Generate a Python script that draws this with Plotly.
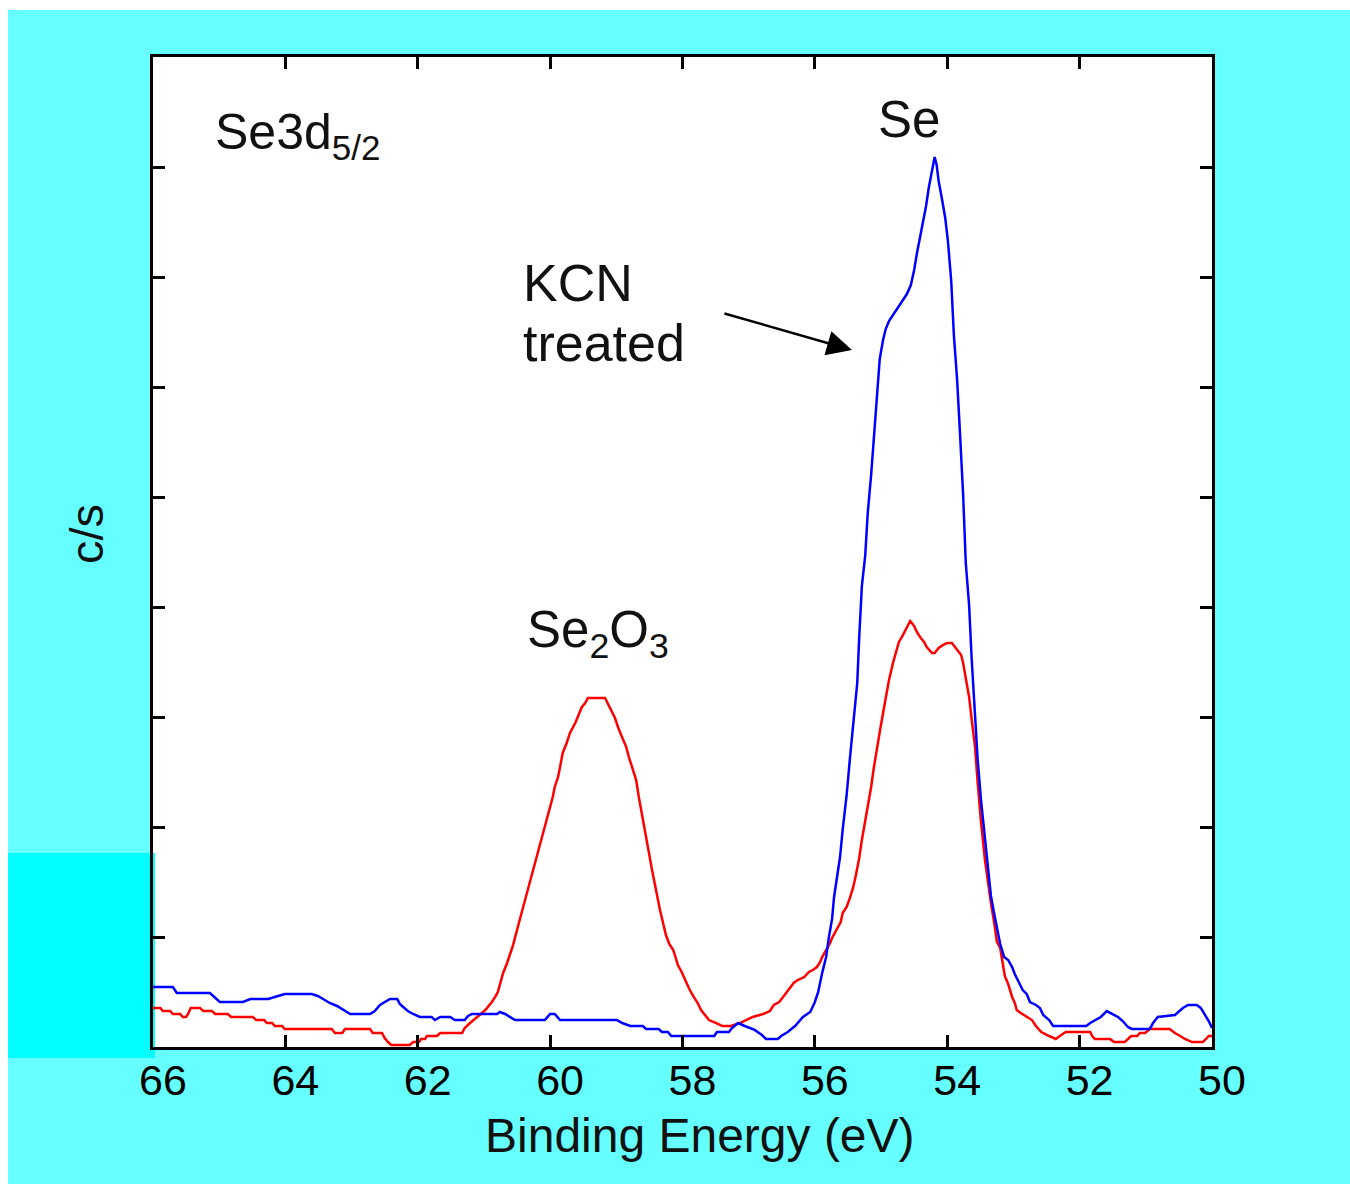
import plotly.graph_objects as go

# ---------------- data ----------------
blue_energy = [66.00, 65.70, 65.64, 65.14, 64.99, 64.64, 64.53, 64.26, 64.16, 64.01, 63.60, 63.51, 63.43, 63.33,
               63.22, 63.10, 63.02, 62.72, 62.65, 62.57, 62.50, 62.42, 62.31, 62.27, 62.22, 62.15, 62.07, 61.97,
               61.79, 61.74, 61.66, 61.51, 61.44, 61.29, 61.24, 61.18, 60.80, 60.76, 60.68, 60.61, 60.53, 60.08,
               60.00, 59.93, 59.85, 58.99, 58.91, 58.79, 58.60, 58.55, 58.36, 58.31, 58.22, 58.17, 57.52, 57.48,
               57.30, 57.25, 57.16, 57.06, 56.91, 56.80, 56.74, 56.56, 56.51, 56.41, 56.30, 56.18, 56.07, 56.00,
               55.95, 55.89, 55.83, 55.79, 55.74, 55.71, 55.67, 55.62, 55.58, 55.52, 55.47, 55.42, 55.36, 55.33,
               55.29, 55.24, 55.20, 55.15, 55.11, 55.06, 55.02, 54.97, 54.93, 54.88, 54.82, 54.77, 54.73, 54.68,
               54.64, 54.61, 54.55, 54.50, 54.46, 54.41, 54.37, 54.32, 54.28, 54.23, 54.19, 54.16, 54.13, 54.08,
               54.03, 53.99, 53.94, 53.90, 53.85, 53.81, 53.76, 53.72, 53.67, 53.63, 53.58, 53.54, 53.49, 53.43,
               53.38, 53.34, 53.29, 53.25, 53.20, 53.14, 53.08, 53.02, 52.98, 52.92, 52.86, 52.80, 52.75, 52.66,
               52.60, 52.55, 52.46, 52.40, 51.90, 51.84, 51.77, 51.68, 51.59, 51.51, 51.42, 51.35, 51.27, 51.21,
               50.94, 50.89, 50.82, 50.56, 50.50, 50.44, 50.36, 50.23, 50.17, 50.11, 50.05, 50.00]
blue_counts = [0.545, 0.545, 0.491, 0.491, 0.409, 0.409, 0.436, 0.436, 0.455, 0.482, 0.482, 0.464, 0.436, 0.400,
               0.373, 0.327, 0.300, 0.300, 0.327, 0.382, 0.409, 0.436, 0.436, 0.391, 0.364, 0.327, 0.300, 0.273,
               0.273, 0.245, 0.273, 0.273, 0.245, 0.245, 0.282, 0.300, 0.300, 0.318, 0.300, 0.273, 0.245, 0.245,
               0.300, 0.300, 0.245, 0.245, 0.218, 0.191, 0.191, 0.164, 0.164, 0.136, 0.136, 0.100, 0.100, 0.136,
               0.136, 0.173, 0.218, 0.191, 0.155, 0.109, 0.073, 0.073, 0.100, 0.136, 0.191, 0.273, 0.318, 0.409,
               0.500, 0.673, 0.818, 0.991, 1.164, 1.364, 1.536, 1.727, 1.973, 2.291, 2.627, 2.964, 3.309, 3.727,
               4.191, 4.464, 4.864, 5.200, 5.545, 6.000, 6.255, 6.427, 6.527, 6.600, 6.655, 6.709, 6.745, 6.782,
               6.818, 6.845, 6.927, 7.064, 7.209, 7.355, 7.491, 7.645, 7.809, 7.973, 8.091, 8.018, 7.873, 7.709,
               7.536, 7.327, 6.964, 6.473, 6.055, 5.609, 5.018, 4.400, 4.018, 3.518, 3.027, 2.609, 2.245, 1.882,
               1.582, 1.373, 1.209, 1.073, 0.936, 0.818, 0.791, 0.727, 0.664, 0.591, 0.518, 0.482, 0.409, 0.382,
               0.355, 0.291, 0.245, 0.191, 0.191, 0.218, 0.245, 0.273, 0.327, 0.300, 0.273, 0.236, 0.182, 0.164,
               0.164, 0.218, 0.273, 0.291, 0.327, 0.355, 0.382, 0.382, 0.355, 0.300, 0.236, 0.173]

red_energy = [66.00, 65.89, 65.85, 65.74, 65.70, 65.59, 65.55, 65.50, 65.47, 65.43, 65.29, 65.24, 65.11, 65.06,
              64.87, 64.82, 64.49, 64.44, 64.32, 64.28, 64.20, 64.16, 64.05, 64.01, 63.30, 63.25, 63.14, 63.10,
              62.72, 62.68, 62.54, 62.50, 62.45, 62.40, 62.12, 62.07, 61.98, 61.95, 61.89, 61.86, 61.71, 61.66,
              61.33, 61.29, 61.21, 61.11, 61.03, 60.98, 60.94, 60.88, 60.83, 60.79, 60.76, 60.71, 60.65, 60.61,
              60.56, 60.46, 60.35, 60.24, 60.14, 60.05, 59.96, 59.93, 59.88, 59.85, 59.81, 59.75, 59.70, 59.62,
              59.58, 59.52, 59.47, 59.43, 59.17, 59.13, 59.07, 59.02, 58.97, 58.91, 58.85, 58.81, 58.76, 58.70,
              58.66, 58.57, 58.46, 58.34, 58.25, 58.20, 58.14, 58.11, 58.07, 58.02, 57.96, 57.92, 57.89, 57.83,
              57.77, 57.72, 57.66, 57.60, 57.49, 57.40, 57.27, 57.13, 57.04, 56.94, 56.78, 56.68, 56.62, 56.54,
              56.48, 56.42, 56.36, 56.32, 56.26, 56.16, 56.09, 56.03, 55.97, 55.92, 55.89, 55.83, 55.77, 55.74,
              55.70, 55.65, 55.61, 55.58, 55.52, 55.47, 55.42, 55.38, 55.33, 55.29, 55.24, 55.20, 55.15, 55.11,
              55.06, 55.02, 54.97, 54.93, 54.88, 54.82, 54.77, 54.73, 54.67, 54.62, 54.56, 54.50, 54.46, 54.40,
              54.35, 54.31, 54.23, 54.19, 54.13, 54.06, 54.00, 53.93, 53.88, 53.84, 53.79, 53.76, 53.72, 53.67,
              53.63, 53.58, 53.54, 53.49, 53.43, 53.38, 53.34, 53.29, 53.25, 53.20, 53.17, 53.13, 53.08, 53.02,
              52.98, 52.95, 52.89, 52.80, 52.72, 52.66, 52.58, 52.46, 52.36, 52.30, 52.21, 51.84, 51.81, 51.77,
              51.54, 51.48, 51.32, 51.27, 51.22, 51.13, 51.09, 51.01, 50.94, 50.64, 50.56, 50.48, 50.41, 50.30,
              50.14, 50.09, 50.05, 50.00]
red_counts = [0.355, 0.355, 0.327, 0.327, 0.300, 0.300, 0.273, 0.273, 0.300, 0.355, 0.355, 0.327, 0.327, 0.300,
              0.300, 0.273, 0.273, 0.245, 0.245, 0.218, 0.218, 0.191, 0.191, 0.164, 0.164, 0.127, 0.127, 0.164,
              0.164, 0.127, 0.127, 0.082, 0.045, 0.018, 0.018, 0.045, 0.045, 0.073, 0.073, 0.100, 0.100, 0.127,
              0.127, 0.173, 0.218, 0.264, 0.309, 0.336, 0.364, 0.409, 0.455, 0.500, 0.564, 0.673, 0.764, 0.836,
              0.927, 1.155, 1.400, 1.645, 1.882, 2.082, 2.273, 2.364, 2.455, 2.545, 2.673, 2.764, 2.855, 2.945,
              3.000, 3.091, 3.127, 3.173, 3.173, 3.127, 3.045, 2.991, 2.900, 2.818, 2.727, 2.636, 2.545, 2.427,
              2.273, 1.973, 1.609, 1.245, 1.018, 0.936, 0.882, 0.827, 0.745, 0.691, 0.609, 0.564, 0.518, 0.455,
              0.400, 0.336, 0.291, 0.245, 0.218, 0.191, 0.191, 0.218, 0.245, 0.273, 0.300, 0.327, 0.382, 0.409,
              0.455, 0.500, 0.545, 0.582, 0.609, 0.636, 0.682, 0.700, 0.727, 0.773, 0.818, 0.882, 0.945, 0.991,
              1.036, 1.082, 1.136, 1.218, 1.273, 1.355, 1.455, 1.564, 1.718, 1.882, 2.045, 2.200, 2.364, 2.536,
              2.700, 2.864, 3.036, 3.182, 3.336, 3.491, 3.609, 3.682, 3.745, 3.800, 3.873, 3.827, 3.773, 3.718,
              3.682, 3.636, 3.582, 3.582, 3.627, 3.655, 3.673, 3.673, 3.636, 3.609, 3.564, 3.491, 3.355, 3.182,
              2.973, 2.727, 2.400, 2.045, 1.700, 1.473, 1.309, 1.127, 0.955, 0.900, 0.791, 0.645, 0.573, 0.455,
              0.400, 0.336, 0.309, 0.273, 0.245, 0.191, 0.136, 0.100, 0.073, 0.100, 0.136, 0.136, 0.100, 0.073,
              0.073, 0.045, 0.045, 0.073, 0.100, 0.100, 0.127, 0.127, 0.164, 0.164, 0.127, 0.100, 0.073, 0.045,
              0.045, 0.073, 0.100, 0.100]

x_tick_values = [66, 64, 62, 60, 58, 56, 54, 52, 50]
x_tick_labels = ["66", "64", "62", "60", "58", "56", "54", "52", "50"]
y_tick_values = [0, 1, 2, 3, 4, 5, 6, 7, 8, 9]

# ---------------- layout geometry (pixels) ----------------
W, H = 1350, 1184
L, R, T, B = 153, 1212, 57, 1047          # plot area edges in pixels
PW, PH = R - L, B - T


def px(xp):
    return (xp - L) / PW


def py(yp):
    return (B - yp) / PH


FONT = "Liberation Sans, Arial, Helvetica, sans-serif"

fig = go.Figure()
fig.add_trace(go.Scatter(x=red_energy, y=red_counts, mode="lines",
                         line=dict(color="#ff0000", width=2.5), showlegend=False))
fig.add_trace(go.Scatter(x=blue_energy, y=blue_counts, mode="lines",
                         line=dict(color="#0000ff", width=2.5), showlegend=False))

shapes = [
    # white strips on left / top
    dict(type="rect", xref="paper", yref="paper", x0=px(0), x1=px(8), y0=py(H), y1=py(0),
         fillcolor="white", line=dict(width=0), layer="below"),
    dict(type="rect", xref="paper", yref="paper", x0=px(0), x1=px(W), y0=py(10), y1=py(0),
         fillcolor="white", line=dict(width=0), layer="below"),
    # bright cyan block at lower left
    dict(type="rect", xref="paper", yref="paper", x0=px(8), x1=px(155), y0=py(1058), y1=py(853),
         fillcolor="#00ffff", line=dict(width=0), layer="below"),
]

annotations = [
    dict(text="Se3d<sub>5/2</sub>", xref="paper", yref="paper", x=px(213), y=py(136),
         xanchor="left", yanchor="middle", showarrow=False, font=dict(family=FONT, size=50, color="#111")),
    dict(text="Se", xref="paper", yref="paper", x=px(909), y=py(120),
         xanchor="center", yanchor="middle", showarrow=False, font=dict(family=FONT, size=51, color="#111")),
    dict(text="KCN", xref="paper", yref="paper", x=px(521), y=py(283),
         xanchor="left", yanchor="middle", showarrow=False, font=dict(family=FONT, size=52, color="#111")),
    dict(text="treated", xref="paper", yref="paper", x=px(521), y=py(343),
         xanchor="left", yanchor="middle", showarrow=False, font=dict(family=FONT, size=52, color="#111")),
    dict(text="Se<sub>2</sub>O<sub>3</sub>", xref="paper", yref="paper", x=px(525), y=py(633),
         xanchor="left", yanchor="middle", showarrow=False, font=dict(family=FONT, size=51, color="#111")),
    dict(text="Binding Energy (eV)", xref="paper", yref="paper", x=px(700), y=py(1135),
         xanchor="center", yanchor="middle", showarrow=False, font=dict(family=FONT, size=48, color="#111")),
    dict(text="c/s", xref="paper", yref="paper", x=px(86), y=py(534), textangle=-90,
         xanchor="center", yanchor="middle", showarrow=False, font=dict(family=FONT, size=47, color="#111")),
    # arrow pointing to the KCN-treated curve
    dict(text="", x=55.44, y=6.336, xref="x", yref="y", ax=-129, ay=-37,
         showarrow=True, arrowhead=2, arrowsize=2.0, arrowwidth=2.5, arrowcolor="black"),
]

fig.update_layout(
    width=W, height=H,
    margin=dict(l=L, r=W - R, t=T, b=H - B, pad=0),
    paper_bgcolor="#66ffff",
    plot_bgcolor="white",
    shapes=shapes,
    annotations=annotations,
    font=dict(family=FONT, color="black"),
    xaxis=dict(range=[66, 50], tickvals=x_tick_values, ticktext=x_tick_labels,
               ticks="inside", ticklen=12, tickwidth=3, tickcolor="black",
               showline=True, linewidth=3, linecolor="black", mirror="ticks",
               showgrid=False, zeroline=False,
               tickfont=dict(family=FONT, size=43, color="black"),
               ticklabelshift=-10, ticklabelstandoff=-7),
    yaxis=dict(range=[0, 9], tickvals=y_tick_values, showticklabels=False,
               ticks="inside", ticklen=12, tickwidth=3, tickcolor="black",
               showline=True, linewidth=3, linecolor="black", mirror="ticks",
               showgrid=False, zeroline=False),
)

fig.write_html("out.html")
